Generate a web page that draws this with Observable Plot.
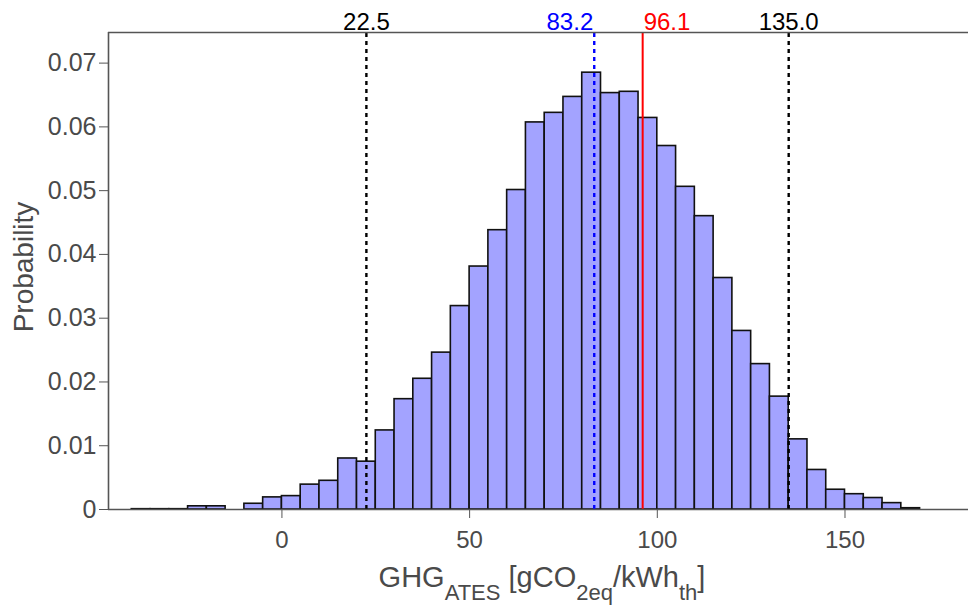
<!DOCTYPE html>
<html>
<head>
<meta charset="utf-8">
<script src="https://cdn.jsdelivr.net/npm/d3@7"></script>
<script src="https://cdn.jsdelivr.net/npm/@observablehq/plot@0.6"></script>
<style>
  body { margin: 0; background: #fff; }
  #chart svg { display: block; }
</style>
</head>
<body>
<div id="chart"></div>
<script>
// ---- data ----
const binStart = [-40, -35, -30, -25, -20, -15, -10, -5, 0, 5, 10, 15, 20, 25, 30, 35, 40, 45, 50, 55, 60,
  65, 70, 75, 80, 85, 90, 95, 100, 105, 110, 115, 120, 125, 130, 135, 140, 145, 150, 155, 160, 165];
const probability = [0.00005, 0.00005, 0.00005, 0.0005, 0.0005, 0, 0.0009, 0.0019, 0.0021, 0.0039, 0.0045,
  0.0080, 0.0075, 0.0124, 0.0173, 0.0205, 0.0246, 0.0319, 0.0381, 0.0438, 0.0501,
  0.0607, 0.0622, 0.0647, 0.0685, 0.0653, 0.0655, 0.0614, 0.0570, 0.0506, 0.0460,
  0.0363, 0.0280, 0.0228, 0.0177, 0.0110, 0.0062, 0.0031, 0.0024, 0.0018, 0.0010, 0.0002];
const binWidth = 5;

const refValues = [22.5, 83.2, 96.1, 135.0];
const refLabels = ["22.5", "83.2", "96.1", "135.0"];
const refColors = ["black", "blue", "red", "black"];
const refDashed = [true, true, false, true];
const refAnchor = ["middle", "end", "start", "middle"];

const xTicks = [0, 50, 100, 150];
const yTicks = [0, 0.01, 0.02, 0.03, 0.04, 0.05, 0.06, 0.07];
const xMin = -46.2, xMax = 182.9;
const yMax = 0.0748;

// ---- tables for the library ----
const bins = binStart.map((b, i) => ({x1: b, x2: b + binWidth, p: probability[i]})).filter(d => d.p > 0);
const refs = refValues.map((v, i) => ({v, label: refLabels[i], color: refColors[i], dashed: refDashed[i], anchor: refAnchor[i]}));

const axisColor = "#555";
const textColor = "#4a4a4a";
const font = "'Liberation Sans', Arial, sans-serif";

const refTextMarks = ["middle", "start", "end"].map(a =>
  Plot.text(refs.filter(d => d.anchor === a), {
    x: "v", y: yMax, text: "label", fill: "color", textAnchor: a,
    dx: a === "end" ? -1 : a === "start" ? 1 : 0,
    lineAnchor: "bottom", dy: -3, fontSize: 24
  })
);

const plot = Plot.plot({
  width: 968,
  height: 608,
  marginLeft: 108,
  marginRight: 0,
  marginTop: 32,
  marginBottom: 99,
  style: {fontFamily: font, fontSize: "24px", background: "white", overflow: "visible"},
  x: {domain: [xMin, xMax]},
  y: {domain: [0, yMax]},
  color: {type: "identity"},
  marks: [
    Plot.rectY(bins, {x1: "x1", x2: "x2", y: "p", fill: "#a3a3ff", stroke: "#111", strokeWidth: 1.6}),
    Plot.ruleX(refs.filter(d => d.dashed), {x: "v", y1: 0, y2: yMax, stroke: "color", strokeWidth: 2.4, strokeDasharray: "4,4"}),
    Plot.ruleX(refs.filter(d => !d.dashed), {x: "v", y1: 0, y2: yMax, stroke: "color", strokeWidth: 2}),
    ...refTextMarks,
    Plot.ruleY([yMax], {stroke: axisColor, strokeWidth: 1.6}),
    Plot.ruleX([xMin], {stroke: axisColor, strokeWidth: 1.6}),
    Plot.ruleY([0], {stroke: axisColor, strokeWidth: 1.6}),
    Plot.axisX({ticks: xTicks, tickSize: 9, tickPadding: 12, stroke: axisColor, fill: textColor, fontSize: 24, label: null, tickFormat: d => String(d)}),
    Plot.axisY({ticks: yTicks, tickSize: 9, tickPadding: 3, stroke: axisColor, fill: textColor, fontSize: 25, label: null,
      tickFormat: d => d === 0 ? "0" : d.toFixed(2)})
  ]
});

document.getElementById("chart").appendChild(plot);

// axis titles with sub-scripts as real text
const svg = d3.select(plot);
const xl = svg.append("text")
  .attr("x", 542).attr("y", 587)
  .attr("text-anchor", "middle")
  .attr("fill", textColor)
  .style("font-size", "29px")
  .style("font-family", font);
const parts = [["GHG", 0], ["ATES", 1], [" [gCO", 0], ["2eq", 1], ["/kWh", 0], ["th", 1], ["]", 0]];
let prevSub = 0;
parts.forEach(([t, sub]) => {
  const ts = xl.append("tspan").text(t);
  if (sub) ts.style("font-size", "22px");
  const dy = (sub - prevSub) * 13;
  if (dy !== 0) ts.attr("dy", dy);
  prevSub = sub;
});

svg.append("text")
  .attr("transform", "translate(33,267) rotate(-90)")
  .attr("text-anchor", "middle")
  .attr("fill", textColor)
  .style("font-size", "28px")
  .style("font-family", font)
  .text("Probability");
</script>
</body>
</html>
